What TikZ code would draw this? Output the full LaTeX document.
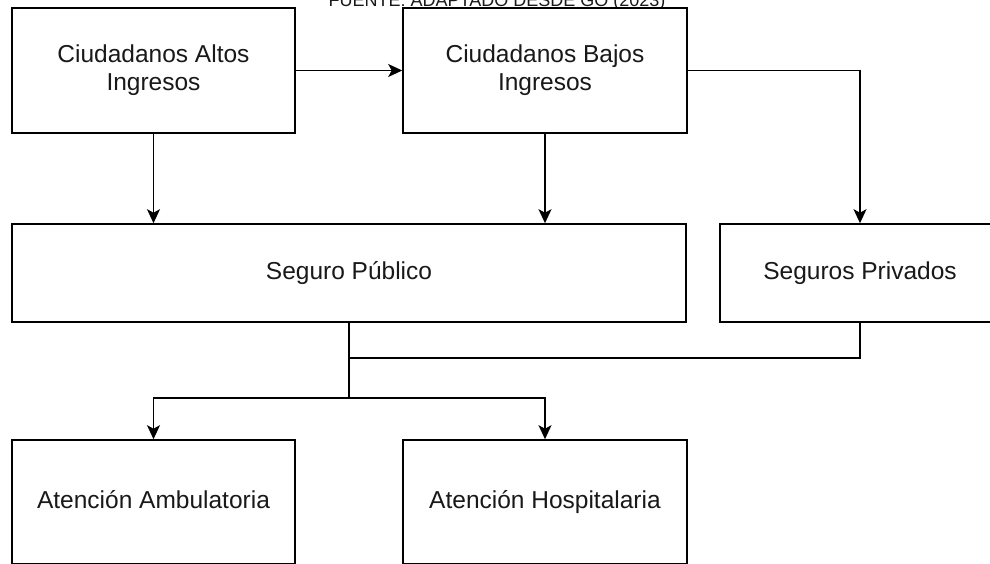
\documentclass[tikz,border=0pt]{standalone}
\usepackage{fontspec}
\setmainfont{Liberation Sans}
\usetikzlibrary{arrows.meta}
\begin{document}
\begin{tikzpicture}[x=1pt,y=-1pt,
  box/.style={draw=black,line width=1.6pt,fill=white,rectangle,align=center,
    inner sep=0pt,text=black!90,font=\fontsize{24.5}{28}\selectfont},
  link/.style={draw=black,line width=1.6pt},
  arr/.style={link,-{Stealth[length=14pt,width=13pt,inset=3.5pt]}}]
\useasboundingbox (0,0) rectangle (990,563);
\clip (0,0) rectangle (990,563);

% header line, partly outside the frame
\node[anchor=base,inner sep=0pt,font=\fontsize{18}{20}\selectfont,text=black!90] (src) at (497,6) {FUENTE: ADAPTADO DESDE GO (2023)};

% boxes
\node[box,minimum width=283pt,minimum height=125pt] (alto) at (153.5,70.5) {Ciudadanos Altos\\Ingresos};
\node[box,minimum width=284pt,minimum height=125pt] (bajo) at (545,70.5) {Ciudadanos Bajos\\Ingresos};
\node[box,minimum width=674pt,minimum height=98pt] (pub) at (349,273) {Seguro Público};
\node[box,minimum width=280pt,minimum height=98pt] (priv) at (860,273) {Seguros Privados};
\node[box,minimum width=283pt,minimum height=124pt] (amb) at (153.5,502) {Atención Ambulatoria\vphantom{g}};
\node[box,minimum width=284pt,minimum height=124pt] (hosp) at (545,502) {Atención Hospitalaria};

% junctions
\coordinate (j1) at (pub.south |- 0,358);
\coordinate (j2) at (pub.south |- 0,398);

% connectors
\draw[arr] (alto.east) -- (bajo.west);
\draw[arr] (alto.south) -- (alto.south |- pub.north);
\draw[arr] (bajo.south) -- (bajo.south |- pub.north);
\draw[arr] (bajo.east) -| (priv.north);
\draw[link] (pub.south) -- (j2);
\draw[link] (priv.south) |- (j1);
\draw[arr] (j2) -| (amb.north);
\draw[arr] (j2) -| (hosp.north);
\end{tikzpicture}
\end{document}
